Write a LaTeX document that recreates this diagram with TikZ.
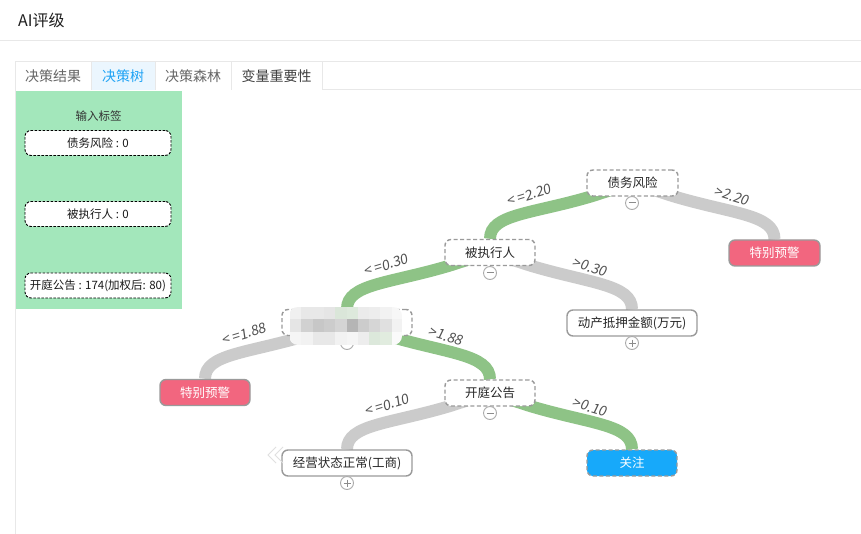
\documentclass[tikz,border=0pt]{standalone}
\usepackage{fontspec}
\setmainfont{Noto Sans CJK SC}
\newfontfamily\slantfont[FakeSlant=0.15]{Noto Sans CJK SC}
\usetikzlibrary{calc}
\pgfdeclarelayer{bg}
\pgfsetlayers{bg,main}
\definecolor{linkgreen}{HTML}{8EC386}
\definecolor{linkgray}{HTML}{CBCBCB}
\definecolor{panelgreen}{HTML}{A3E7BB}
\definecolor{warnpink}{HTML}{F2667F}
\definecolor{focusblue}{HTML}{17A9FA}
\definecolor{tabblue}{HTML}{1FA3F5}
\definecolor{tabbg}{HTML}{EBF6FE}
\definecolor{rulegray}{HTML}{E8E8E8}
\definecolor{boxgray}{HTML}{9A9A9A}
\tikzset{
  treebox/.style={draw=boxgray, line width=1.4pt, dash pattern=on 4pt off 2.5pt, rounded corners=6pt, fill=white, minimum width=#1, minimum height=26pt, inner sep=0pt, text=black!85, font=\fontsize{12.5}{14}\selectfont},
  solidbox/.style={treebox=#1, solid},
  warnbox/.style={draw=boxgray, line width=1.4pt, rounded corners=6pt, fill=warnpink, minimum width=#1, minimum height=26pt, inner sep=0pt, text=white, font=\fontsize{12.5}{14}\selectfont},
  focusbox/.style={treebox=#1, fill=focusblue, text=white},
  panelbox/.style={draw=black, line width=0.9pt, dash pattern=on 2.5pt off 1.5pt, rounded corners=6pt, fill=white, minimum width=146pt, minimum height=25pt, inner sep=0pt, text=black!90, font=\fontsize{11.5}{13}\selectfont},
  edgelabel/.style={text=black!68, inner sep=0pt, font=\slantfont\fontsize{14}{15}\selectfont},
  greenlink/.style={draw=linkgreen, line width=12pt},
  graylink/.style={draw=linkgray, line width=12pt},
  toggle/.style={circle, draw=black!33, line width=0.9pt, fill=white, minimum size=13pt, inner sep=0pt},
  togmark/.style={draw=black!45, line width=1pt},
  tabtext/.style={text=black!60, font=\fontsize{14}{16}\selectfont},
}
\newcommand\treelink[4]{\draw[#1] (#2.center) -- ($(#2.center)+({40*#4},13)$) .. controls +({60*#4},18) and +(0,-25) .. (#3.north);}
\newcommand\minusmark[1]{\draw[togmark] ($(#1.center)+(-3.5,0)$) -- ($(#1.center)+(3.5,0)$);}
\newcommand\plusmark[1]{\draw[togmark] ($(#1.center)+(-3.5,0)$) -- ($(#1.center)+(3.5,0)$) ($(#1.center)+(0,-3.5)$) -- ($(#1.center)+(0,3.5)$);}
\begin{document}
\begin{tikzpicture}[x=1pt,y=-1pt]
\useasboundingbox (0,0) rectangle (861,534);
\begin{pgfonlayer}{bg}
\fill[white] (0,0) rectangle (861,534);
\end{pgfonlayer}
% header
\node[anchor=west, inner sep=0pt, text=black!88, font=\fontsize{16}{18}\selectfont] (title) at (18,20) {AI评级};
\draw[rulegray, line width=1pt] (0,40.5) -- (861,40.5);
% tabs
\fill[tabbg] (91,61.5) rectangle (155,90);
\draw[rulegray, line width=1pt] (15,61.5) -- (861,61.5);
\draw[rulegray, line width=1pt] (322,90) -- (861,90);
\draw[rulegray, line width=1pt] (15,61.5) -- (15,534);
\draw[rulegray, line width=1pt] (91,61.5) -- (91,90) (155,61.5) -- (155,90) (231,61.5) -- (231,90) (322,61.5) -- (322,90);
\node[tabtext] (tab1) at (53,76) {决策结果};
\node[tabtext, text=tabblue] (tab2) at (123,76) {决策树};
\node[tabtext] (tab3) at (193,76) {决策森林};
\node[tabtext, text=black!75] (tab4) at (276.5,76) {变量重要性};
% panel
\fill[panelgreen] (15.5,91) rectangle (182,309);
\node[text=black!80, font=\fontsize{11.5}{13}\selectfont] (ptitle) at (98.5,116) {输入标签};
\node[panelbox] (p1) at (98,143) {债务风险 : 0};
\node[panelbox] (p2) at (98,214) {被执行人 : 0};
\node[panelbox] (p3) at (98,285.5) {开庭公告 : 174(加权后: 80)};
% tree nodes
\node[treebox=91pt] (n1) at (632.5,183) {债务风险};
\node[treebox=90pt] (n2) at (490,252.5) {被执行人};
\node[warnbox=91pt] (r1) at (774.5,253) {特别预警};
\node[treebox=130pt] (n3) at (347,322.5) {};
\node[solidbox=130pt] (r2) at (632,323) {动产抵押金额(万元)};
\node[warnbox=90pt] (r3) at (205,392.5) {特别预警};
\node[treebox=90pt] (n4) at (490,393) {开庭公告};
\node[solidbox=130pt] (r4) at (347,463) {经营状态正常(工商)};
\node[focusbox=90pt] (r5) at (632,463) {关注};
% links
\begin{pgfonlayer}{bg}
\treelink{greenlink}{n1}{n2}{-1}
\treelink{graylink}{n1}{r1}{1}
\treelink{greenlink}{n2}{n3}{-1}
\treelink{graylink}{n2}{r2}{1}
\treelink{graylink}{n3}{r3}{-1}
\treelink{greenlink}{n3}{n4}{1}
\treelink{graylink}{n4}{r4}{-1}
\treelink{greenlink}{n4}{r5}{1}
\end{pgfonlayer}
% toggles
\node[toggle] (t1) at (632,203) {}; \minusmark{t1}
\node[toggle] (t2) at (490,273) {}; \minusmark{t2}
\node[toggle] (t3) at (347,343) {}; \minusmark{t3}
\node[toggle] (t4) at (632,343) {}; \plusmark{t4}
\node[toggle] (t5) at (490,413) {}; \minusmark{t5}
\node[toggle] (t6) at (347,483) {}; \plusmark{t6}
% mosaic over the hidden label
\begin{scope}
\clip[rounded corners=9pt] (289,307) rectangle (402,345);
\foreach \v [count=\i from 0] in {6,9,9,10,12,9,8,7,5,3}
  \fill[black!\v] ({290+11.3*\i},307) rectangle ({290+11.3*(\i+1)},318.5);
\foreach \v [count=\i from 0] in {10,18,22,20,17,29,20,16,12,5}
  \fill[black!\v] ({290+11.3*\i},318.5) rectangle ({290+11.3*(\i+1)},331.5);
\foreach \v [count=\i from 0] in {4,5,9,9,5,4,7,10,6,2}
  \fill[black!\v] ({290+11.3*\i},331.5) rectangle ({290+11.3*(\i+1)},345);
\fill[linkgreen!35, opacity=0.6] (335,307) rectangle (358,318.5);
\fill[linkgreen!35, opacity=0.6] (369,331.5) rectangle (392,345);
\end{scope}
% edge labels
\node[edgelabel, rotate=17] (l1) at (529,195) {<\hspace{3pt}=2.20};
\node[edgelabel, rotate=-17] (l2) at (732,196) {>2.20};
\node[edgelabel, rotate=17] (l3) at (386,265) {<\hspace{3pt}=0.30};
\node[edgelabel, rotate=-17] (l4) at (590,267) {>0.30};
\node[edgelabel, rotate=17] (l5) at (244,334) {<\hspace{3pt}=1.88};
\node[edgelabel, rotate=-17] (l6) at (446,336) {>1.88};
\node[edgelabel, rotate=17] (l7) at (387,405) {<\hspace{3pt}=0.10};
\node[edgelabel, rotate=-17] (l8) at (590,407) {>0.10};
% faint chevrons
\coordinate (ch) at (276,455);
\draw[black!12, line width=1pt] ($(ch)+(0,-8)$) -- ($(ch)+(-8,0)$) -- ($(ch)+(0,8)$);
\draw[black!12, line width=1pt] ($(ch)+(7,-8)$) -- ($(ch)+(-1,0)$) -- ($(ch)+(7,8)$);
\end{tikzpicture}
\end{document}
